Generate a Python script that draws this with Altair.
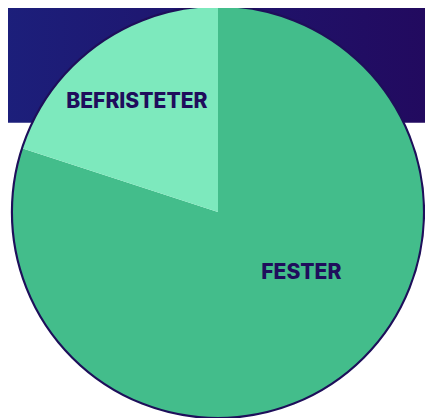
import altair as alt
import pandas as pd

categories = ["FESTER", "BEFRISTETER"]
values = [80, 20]
order_idx = [0, 1]
colors = ["#43bd8b", "#7de9bd"]

W, H = 425, 410
CX, CY, R = 214, 204, 210

df = pd.DataFrame({"kategorie": categories, "wert": values, "idx": order_idx})
base = alt.Chart(df)

band = alt.Chart(pd.DataFrame({"a": [0]})).mark_rect(
    color=alt.Gradient(
        gradient="linear",
        stops=[alt.GradientStop(color="#1c1f7b", offset=0),
               alt.GradientStop(color="#220a5f", offset=1)],
        x1=0, x2=1, y1=0, y2=0,
    )
).encode(x=alt.value(-8), x2=alt.value(W), y=alt.value(-8), y2=alt.value(113))

pie = base.mark_arc(radius=R, stroke=None).encode(
    theta=alt.Theta("wert:Q", stack=True),
    order=alt.Order("idx:Q"),
    color=alt.Color("kategorie:N", scale=alt.Scale(domain=categories, range=colors), legend=None),
    x=alt.value(CX), y=alt.value(CY),
)

outline = alt.Chart(pd.DataFrame({"a": [0]})).mark_arc(
    radius=R, theta=0, theta2=6.2832, filled=False, stroke="#1e0f5a", strokeWidth=2.2
).encode(x=alt.value(CX), y=alt.value(CY))

lab_base = base.transform_window(
    cum="sum(wert)", sort=[alt.SortField("idx")]
).transform_calculate(mid="datum.cum - datum.wert / 2")

txt_style = dict(font="Inter", fontWeight=800, fontSize=21.5, color="#1f0d5c")

lab_bef = lab_base.transform_filter(alt.datum.kategorie == "BEFRISTETER").mark_text(
    radius=139, dx=-1, **txt_style
).encode(theta=alt.Theta("mid:Q", stack=False), text="kategorie:N",
         x=alt.value(CX), y=alt.value(CY))

lab_fes = lab_base.transform_filter(alt.datum.kategorie == "FESTER").mark_text(
    radius=102, dx=25, dy=-20, **txt_style
).encode(theta=alt.Theta("mid:Q", stack=False), text="kategorie:N",
         x=alt.value(CX), y=alt.value(CY))

chart = alt.layer(band, pie, outline, lab_bef, lab_fes).properties(
    width=W, height=H, padding=0, autosize=alt.AutoSizeParams(type="none"),
    background="white",
).configure_view(stroke=None)

chart.save("out.html", embed_options={"renderer": "svg", "actions": False})
